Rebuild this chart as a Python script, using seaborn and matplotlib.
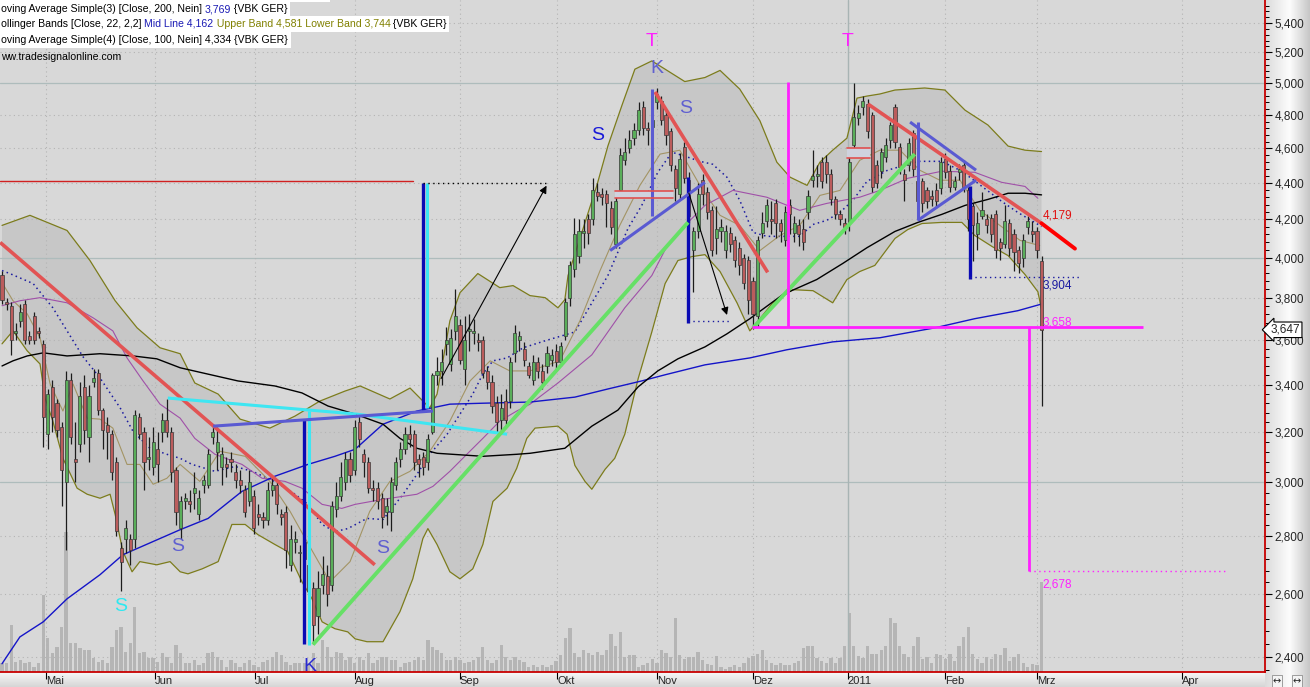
import numpy as np
import pandas as pd
import matplotlib
matplotlib.use('Agg')
import matplotlib.pyplot as plt
import seaborn as sns
from matplotlib.patches import Rectangle
from matplotlib.text import Annotation
from matplotlib.transforms import IdentityTransform
from matplotlib.ticker import FixedLocator, FuncFormatter, NullFormatter

# --- VBK GER, pregões diários (preço em EUR) ---
aberturas = [
    3.91, 3.78, 3.76, 3.63, 3.69, 3.77, 3.62, 3.71, 3.64, 3.58,
    3.19, 3.39, 3.32, 3.22, 3.00, 3.42, 3.09, 3.15, 3.39, 3.18,
    3.41, 3.45, 3.29, 3.23, 3.19, 3.08, 2.76, 2.79, 2.79, 2.79,
    3.26, 3.20, 3.09, 3.06, 3.13, 3.20, 3.25, 3.20, 3.05, 2.83,
    2.93, 2.93, 2.96, 2.88, 2.99, 2.99, 3.18, 3.12, 3.06, 3.07,
    3.09, 3.04, 3.01, 2.97, 2.93, 2.95, 2.88, 2.87, 2.86, 2.97,
    2.99, 2.88, 2.89, 2.70, 2.78, 2.74, 2.72, 2.70, 2.62, 2.53,
    2.63, 2.66, 2.63, 2.90, 2.95, 3.00, 3.09, 3.05, 3.24, 3.11,
    3.08, 2.98, 2.98, 2.94, 2.89, 2.89, 2.99, 3.09, 3.13, 3.19,
    3.19, 3.09, 3.10, 3.08, 3.20, 3.44, 3.46, 3.58, 3.49, 3.64,
    3.67, 3.47, 3.64, 3.63, 3.60, 3.60, 3.46, 3.41, 3.32, 3.25,
    3.33, 3.33, 3.54, 3.60, 3.56, 3.48, 3.42, 3.50, 3.46, 3.48,
    3.51, 3.55, 3.50, 3.62, 3.80, 3.94, 4.01, 4.13, 4.20, 4.20,
    4.35, 4.34, 4.34, 4.26, 4.07, 4.36, 4.53, 4.60, 4.66, 4.71,
    4.85, 4.72, 4.73, 4.88, 4.89, 4.80, 4.70, 4.48, 4.34, 4.61,
    4.42, 4.04, 4.14, 4.42, 4.35, 4.25, 4.10, 4.14, 4.04, 4.13,
    4.09, 4.05, 4.00, 3.99, 3.88, 3.71, 4.13, 4.19, 4.20, 4.29,
    4.18, 4.09, 4.28, 4.13, 4.17, 4.15, 4.24, 4.42, 4.44, 4.52,
    4.52, 4.45, 4.31, 4.23, 4.18, 4.18, 4.62, 4.78, 4.85, 4.87,
    4.80, 4.50, 4.47, 4.55, 4.65, 4.85, 4.61, 4.45, 4.50, 4.69,
    4.41, 4.41, 4.36, 4.33, 4.36, 4.37, 4.54, 4.47, 4.38, 4.46,
    4.50, 4.36, 4.27, 4.12, 4.22, 4.20, 4.21, 4.23, 4.08, 4.07,
    4.18, 4.12, 4.04, 4.00, 4.16, 4.14, 4.14, 3.98,
]
maximas = [
    3.93, 3.80, 3.78, 3.68, 3.77, 3.79, 3.64, 3.73, 3.66, 3.60,
    3.38, 3.42, 3.34, 3.24, 3.46, 3.45, 3.24, 3.41, 3.44, 3.40,
    3.47, 3.47, 3.30, 3.26, 3.21, 3.10, 2.78, 2.86, 2.81, 3.29,
    3.28, 3.22, 3.18, 3.22, 3.20, 3.28, 3.34, 3.22, 3.06, 2.95,
    2.96, 2.97, 3.04, 2.97, 3.03, 3.13, 3.23, 3.22, 3.14, 3.10,
    3.12, 3.07, 3.05, 2.99, 3.05, 2.97, 2.92, 2.89, 3.00, 3.03,
    3.01, 2.90, 2.91, 2.84, 2.82, 2.77, 2.81, 2.74, 2.64, 2.68,
    2.73, 2.70, 2.93, 3.00, 3.08, 3.12, 3.12, 3.25, 3.27, 3.13,
    3.10, 3.01, 3.00, 2.96, 2.94, 3.02, 3.10, 3.16, 3.22, 3.23,
    3.21, 3.11, 3.12, 3.19, 3.45, 3.52, 3.56, 3.66, 3.65, 3.84,
    3.70, 3.71, 3.72, 3.70, 3.63, 3.62, 3.48, 3.44, 3.35, 3.36,
    3.38, 3.52, 3.67, 3.64, 3.59, 3.50, 3.53, 3.52, 3.49, 3.57,
    3.56, 3.58, 3.59, 3.80, 3.98, 4.21, 4.20, 4.20, 4.23, 4.43,
    4.40, 4.37, 4.36, 4.30, 4.32, 4.60, 4.66, 4.71, 4.75, 4.88,
    4.89, 4.76, 4.82, 4.97, 4.92, 4.84, 4.72, 4.50, 4.57, 4.64,
    4.46, 4.16, 4.40, 4.45, 4.38, 4.27, 4.27, 4.20, 4.17, 4.16,
    4.11, 4.08, 4.02, 4.01, 3.90, 4.11, 4.24, 4.31, 4.30, 4.31,
    4.20, 4.27, 4.31, 4.22, 4.20, 4.20, 4.36, 4.59, 4.50, 4.55,
    4.56, 4.48, 4.33, 4.25, 4.21, 4.55, 5.00, 4.86, 4.92, 4.90,
    4.82, 4.53, 4.60, 4.66, 4.76, 4.87, 4.63, 4.48, 4.66, 4.71,
    4.43, 4.43, 4.38, 4.36, 4.40, 4.55, 4.57, 4.50, 4.44, 4.51,
    4.53, 4.38, 4.29, 4.24, 4.35, 4.23, 4.23, 4.25, 4.10, 4.28,
    4.20, 4.15, 4.06, 4.12, 4.22, 4.19, 4.16, 4.01,
]
minimas = [
    3.77, 3.74, 3.53, 3.60, 3.66, 3.58, 3.58, 3.58, 3.61, 3.14,
    3.13, 3.20, 3.18, 2.91, 2.75, 3.15, 3.00, 3.12, 3.15, 3.08,
    3.39, 3.27, 3.13, 3.09, 3.01, 2.80, 2.61, 2.74, 2.70, 2.76,
    3.17, 2.97, 3.05, 3.03, 3.00, 3.16, 3.18, 3.00, 2.84, 2.79,
    2.90, 2.89, 2.90, 2.86, 2.96, 2.98, 3.15, 3.05, 2.99, 3.02,
    3.04, 2.98, 2.96, 2.87, 2.91, 2.81, 2.84, 2.83, 2.84, 2.95,
    2.88, 2.84, 2.69, 2.68, 2.74, 2.64, 2.70, 2.55, 2.44, 2.47,
    2.60, 2.56, 2.61, 2.87, 2.93, 2.97, 3.00, 3.03, 3.14, 3.02,
    2.96, 2.93, 2.90, 2.83, 2.84, 2.82, 2.97, 3.06, 3.11, 3.14,
    3.05, 3.02, 3.03, 3.05, 3.19, 3.40, 3.40, 3.53, 3.46, 3.60,
    3.49, 3.40, 3.55, 3.58, 3.55, 3.43, 3.38, 3.28, 3.20, 3.19,
    3.22, 3.30, 3.50, 3.55, 3.48, 3.43, 3.40, 3.43, 3.38, 3.45,
    3.48, 3.47, 3.48, 3.60, 3.76, 3.90, 3.97, 4.05, 4.07, 4.17,
    4.30, 4.28, 4.16, 4.12, 4.05, 4.33, 4.50, 4.57, 4.62, 4.68,
    4.68, 4.62, 4.70, 4.84, 4.74, 4.62, 4.47, 4.30, 4.31, 4.40,
    4.18, 3.83, 4.10, 4.28, 4.20, 4.01, 4.02, 4.08, 4.00, 4.03,
    3.95, 3.91, 3.84, 3.72, 3.65, 3.66, 4.10, 4.16, 4.12, 4.10,
    4.08, 4.06, 4.12, 4.08, 4.06, 4.04, 4.20, 4.38, 4.38, 4.37,
    4.40, 4.28, 4.20, 4.17, 4.12, 4.14, 4.58, 4.74, 4.80, 4.66,
    4.35, 4.37, 4.43, 4.52, 4.60, 4.60, 4.45, 4.30, 4.47, 4.44,
    4.25, 4.24, 4.26, 4.27, 4.26, 4.34, 4.43, 4.35, 4.36, 4.42,
    4.35, 4.14, 3.98, 4.04, 4.20, 4.13, 4.08, 4.00, 3.99, 4.05,
    4.01, 3.93, 3.92, 3.95, 4.12, 4.08, 4.00, 3.31,
]
fechamentos = [
    3.79, 3.77, 3.60, 3.64, 3.73, 3.60, 3.60, 3.60, 3.63, 3.26,
    3.36, 3.26, 3.21, 3.05, 3.42, 3.18, 3.08, 3.35, 3.21, 3.35,
    3.43, 3.29, 3.21, 3.20, 3.04, 2.82, 2.71, 2.83, 2.75, 3.27,
    3.19, 3.08, 3.10, 3.16, 3.07, 3.25, 3.20, 3.04, 2.89, 2.93,
    2.94, 2.92, 2.98, 2.94, 3.01, 3.11, 3.20, 3.16, 3.11, 3.06,
    3.08, 3.01, 2.99, 2.89, 3.00, 2.83, 2.87, 2.86, 2.97, 2.99,
    2.92, 2.87, 2.75, 2.79, 2.79, 2.74, 2.78, 2.61, 2.50, 2.62,
    2.67, 2.60, 2.91, 2.95, 3.02, 3.09, 3.03, 3.22, 3.17, 3.08,
    2.98, 2.97, 2.93, 2.87, 2.91, 3.00, 3.08, 3.13, 3.19, 3.17,
    3.08, 3.07, 3.06, 3.17, 3.44, 3.46, 3.50, 3.60, 3.61, 3.71,
    3.51, 3.60, 3.65, 3.64, 3.59, 3.45, 3.41, 3.31, 3.24, 3.30,
    3.25, 3.50, 3.63, 3.62, 3.51, 3.44, 3.50, 3.46, 3.41, 3.54,
    3.53, 3.50, 3.57, 3.78, 3.96, 4.12, 4.14, 4.14, 4.13, 4.36,
    4.33, 4.32, 4.29, 4.16, 4.30, 4.56, 4.58, 4.65, 4.71, 4.83,
    4.72, 4.71, 4.77, 4.93, 4.77, 4.68, 4.50, 4.37, 4.54, 4.43,
    4.22, 4.14, 4.34, 4.34, 4.24, 4.04, 4.15, 4.16, 4.14, 4.07,
    3.99, 3.96, 3.87, 3.79, 3.72, 4.09, 4.18, 4.28, 4.19, 4.18,
    4.14, 4.24, 4.23, 4.18, 4.12, 4.08, 4.33, 4.44, 4.45, 4.41,
    4.45, 4.31, 4.23, 4.20, 4.16, 4.52, 4.79, 4.81, 4.89, 4.70,
    4.38, 4.40, 4.58, 4.62, 4.74, 4.64, 4.49, 4.42, 4.63, 4.48,
    4.30, 4.29, 4.30, 4.31, 4.30, 4.52, 4.46, 4.38, 4.41, 4.48,
    4.38, 4.20, 4.17, 4.18, 4.25, 4.17, 4.12, 4.04, 4.05, 4.19,
    4.05, 4.03, 3.97, 4.09, 4.19, 4.12, 4.04, 3.647,
]
# volume relativo (mesma escala do painel de baixo)
volumes = [
    9, 9, 47, 10, 12, 9, 10, 5, 9, 77, 34, 19, 25, 45, 140, 29, 29, 24, 22, 22,
    14, 10, 12, 9, 25, 42, 45, 20, 29, 65, 19, 20, 14, 14, 10, 19, 15, 9,
    27, 19, 9, 9, 12, 7, 9, 19, 20, 15, 12, 5, 12, 9, 5, 9, 12, 7, 5, 10,
    12, 15, 20, 17, 10, 7, 9, 9, 9, 9, 19, 9, 32, 25, 15, 20, 19,
    12, 15,
    9, 15, 12, 19, 9, 12, 15, 15, 12, 12, 5, 9, 10, 12, 15, 12, 32, 25, 22, 19,
    12, 12, 15, 12, 9, 10, 12, 15, 25, 12, 9, 12, 27, 15, 12, 15, 12,
    10,
    5, 7, 5, 7, 5, 7, 11, 17, 34, 44, 19, 15, 22, 19, 17, 20, 17, 22, 38, 26,
    40, 15, 17, 17, 5, 7, 9, 13, 9, 22, 19, 15, 54, 17, 13, 15,
    15, 20, 12, 8,
    7, 16, 5, 3, 5, 7, 5, 9, 14, 16, 18, 22, 12, 9, 7, 9, 7, 7, 9, 11,
    24, 26, 26, 14, 11, 9, 14, 9, 14, 26, 59, 26, 16, 14, 26, 18,
    18, 22, 26, 54, 49, 26, 18, 15, 26, 35, 13, 15, 9, 18, 17, 13, 18, 11, 26, 35,
    45, 18, 13, 9, 15, 13, 18, 17, 24, 11, 15, 18, 9, 5, 8, 7, 90,
]

meses_pos = [9.6, 33.4, 55.2, 77.1, 100.0, 121.2, 143.0, 164.0, 184.7, 205.9, 226.0, 257.6]
meses_rotulos = ['Mai', 'Jun', 'Jul', 'Aug', 'Sep', 'Okt', 'Nov', 'Dez', '2011', 'Feb', 'Mrz', 'Apr']

# --- indicadores (pregão, preço) ---
bb_sup_x = [0, 6.1, 14.2, 19.2, 24.7, 29.5, 34.5, 38.9, 42.1, 47.2, 52.0, 58.5, 64.0, 69.4, 74.9,
            78.2, 84.7, 89.1, 93.4, 95.0, 97.8, 100.0, 103.9, 108.7, 111.6, 115.3, 118.6, 121.4,
            122.9, 123.6, 126.9, 129.9, 132.3, 135.4, 138.2, 141.9, 144.8, 149.1, 153.5, 156.8,
            161.1, 165.5, 169.2, 172.1, 175.8, 178.6, 181.4, 184.5, 186.7, 188.9, 191.7, 195.0,
            201.5, 205.9, 210.3, 215.3, 219.7, 223.4, 227.0]
bb_sup_y = [4.168, 4.222, 4.141, 3.985, 3.785, 3.656, 3.564, 3.537, 3.407, 3.359, 3.253, 3.216,
            3.266, 3.329, 3.372, 3.394, 3.338, 3.385, 3.300, 3.359, 3.689, 3.824, 3.919, 3.849,
            3.859, 3.810, 3.800, 3.751, 3.790, 3.909, 4.152, 4.387, 4.613, 4.862, 5.090, 5.144,
            5.090, 5.010, 5.036, 5.082, 4.962, 4.765, 4.519, 4.433, 4.387, 4.519, 4.589, 4.660,
            4.905, 4.918, 4.931, 4.956, 4.969, 4.956, 4.830, 4.739, 4.613, 4.589, 4.581]
bb_inf_x = [0, 2.4, 5.5, 8.3, 9.4, 11.1, 13.3, 16.4, 18.6, 21.4, 23.6, 24.7, 26.4, 28.4, 30.1,
            33.8, 36.7, 38.9, 40.6, 43.7, 47.2, 50.2, 53.1, 55.9, 59.6, 62.4, 65.5, 67.7, 69.9,
            72.7, 75.5, 77.1, 79.7, 83.2, 86.9, 89.7, 91.9, 93.0, 95.0, 97.8, 100.0, 102.8, 105.0,
            107.2, 110.3, 112.4, 114.6, 116.4, 121.4, 123.4, 125.1, 127.3, 128.8, 131.7, 133.8,
            136.0, 138.9, 141.9, 144.8, 147.6, 150.7, 153.5, 156.8, 160.5, 163.3, 164.8, 168.3,
            172.7, 177.1, 181.4, 184.5, 187.3, 190.6, 195.0, 197.8, 200.9, 205.2, 209.6, 212.4,
            216.2, 219.7, 223.4, 226.2, 227.0]
bb_inf_y = [3.582, 3.642, 3.550, 3.491, 3.342, 3.245, 3.094, 2.978, 2.955, 2.940, 2.955, 2.880,
            2.746, 2.676, 2.711, 2.700, 2.711, 2.676, 2.669, 2.686, 2.711, 2.843, 2.843, 2.806,
            2.771, 2.746, 2.642, 2.585, 2.510, 2.488, 2.478, 2.456, 2.447, 2.447, 2.543, 2.652,
            2.792, 2.828, 2.771, 2.676, 2.652, 2.686, 2.771, 2.928, 2.978, 3.055, 3.174, 3.216,
            3.224, 3.191, 3.066, 3.004, 2.974, 3.051, 3.094, 3.191, 3.425, 3.637, 3.869, 3.985,
            4.005, 4.015, 3.929, 3.775, 3.642, 3.680, 3.775, 3.839, 3.834, 3.775, 3.889, 3.929,
            3.960, 4.099, 4.146, 4.178, 4.184, 4.184, 4.115, 4.057, 4.010, 3.914, 3.829, 3.744]
bb_med_x = [0, 1.7, 6.8, 11.1, 14.2, 17.7, 21.4, 25.8, 28.6, 32.3, 36.0, 38.9, 41.5, 46.5, 50.9,
            54.6, 59.6, 64.0, 66.8, 69.9, 72.7, 75.5, 79.7, 83.2, 87.6, 90.6, 93.4, 97.2, 100.0,
            102.8, 105.0, 107.2, 110.3, 113.8, 118.6, 125.1, 132.3, 136.7, 139.7, 143.2, 146.3,
            149.1, 152.4, 155.2, 158.3, 161.1, 164.0, 167.0, 171.4, 174.2, 177.1, 180.1, 183.0,
            185.8, 188.9, 193.4, 200.0, 205.2, 209.6, 214.0, 218.3, 221.8, 227.0]
bb_med_y = [3.934, 3.919, 3.869, 3.751, 3.642, 3.523, 3.429, 3.300, 3.203, 3.134, 3.110, 3.094,
            3.070, 3.043, 3.062, 3.043, 3.004, 2.955, 2.917, 2.843, 2.817, 2.828, 2.865, 2.861,
            2.955, 3.031, 3.110, 3.191, 3.274, 3.359, 3.447, 3.505, 3.518, 3.564, 3.596, 3.637,
            3.909, 4.152, 4.276, 4.461, 4.577, 4.554, 4.524, 4.507, 4.433, 4.304, 4.131, 4.110,
            4.110, 4.110, 4.173, 4.195, 4.238, 4.304, 4.410, 4.473, 4.524, 4.524, 4.467, 4.381,
            4.298, 4.238, 4.162]
sma200_x = [0, 3.9, 9.0, 14.2, 21.4, 26.4, 38.9, 45.0, 52.4, 59.6, 66.8, 72.7, 77.1, 83.2, 90.6,
            97.8, 105.0, 115.3, 125.1, 132.3, 139.7, 144.8, 153.5, 163.3, 171.4, 181.4, 191.7,
            203.7, 212.4, 221.8, 227.0]
sma200_y = [2.379, 2.462, 2.510, 2.585, 2.666, 2.735, 2.824, 2.865, 2.966, 3.024, 3.070, 3.102,
            3.130, 3.232, 3.287, 3.316, 3.320, 3.325, 3.346, 3.381, 3.416, 3.443, 3.487, 3.518,
            3.555, 3.591, 3.610, 3.656, 3.699, 3.737, 3.769]
sma100_x = [0, 2.4, 5.5, 9.0, 14.2, 21.4, 28.6, 33.8, 38.9, 51.5, 59.6, 65.5, 71.2, 77.1, 83.2,
            86.9, 90.6, 95.0, 105.0, 112.4, 115.3, 122.9, 128.8, 134.5, 138.9, 143.2, 147.6,
            153.5, 158.3, 163.3, 170.5, 177.9, 183.6, 188.9, 195.0, 200.0, 205.2, 210.3, 215.3,
            219.7, 223.4, 227.0]
sma100_y = [3.482, 3.505, 3.527, 3.541, 3.527, 3.537, 3.527, 3.514, 3.474, 3.416, 3.394, 3.364,
            3.308, 3.274, 3.232, 3.174, 3.134, 3.114, 3.102, 3.110, 3.114, 3.134, 3.224, 3.291,
            3.390, 3.460, 3.514, 3.568, 3.628, 3.699, 3.815, 3.889, 3.970, 4.051, 4.136, 4.184,
            4.227, 4.276, 4.309, 4.343, 4.343, 4.334]
roxa_x = [0, 3.9, 8.3, 14.2, 19.9, 24.2, 27.3, 30.8, 34.5, 38.9, 42.1, 46.5, 52.4, 56.8, 61.8,
          65.5, 69.9, 74.2, 77.1, 83.2, 90.6, 94.1, 97.8, 101.5, 105.0, 108.7, 112.4, 115.3,
          121.4, 128.8, 136.0, 141.9, 145.4, 148.5, 153.5, 159.6, 167.0, 174.2, 180.1, 187.3,
          191.7, 197.8, 205.2, 212.4, 218.3, 223.4, 226.2]
roxa_y = [3.761, 3.785, 3.800, 3.775, 3.703, 3.642, 3.518, 3.416, 3.316, 3.257, 3.174, 3.110,
          3.070, 3.016, 3.004, 2.978, 2.917, 2.902, 2.917, 2.936, 2.955, 2.985, 3.043, 3.110,
          3.174, 3.245, 3.287, 3.316, 3.407, 3.532, 3.751, 3.909, 4.068, 4.152, 4.276, 4.359,
          4.321, 4.249, 4.287, 4.321, 4.359, 4.427, 4.467, 4.461, 4.404, 4.381, 4.315]
ocre_x = [0, 2.4, 5.5, 8.3, 10.5, 13.3, 15.5, 18.6, 21.4, 24.2, 27.3, 30.1, 33.0, 36.0, 38.9,
          43.2, 47.6, 53.1, 58.5, 62.9, 67.2, 71.6, 76.0, 80.3, 84.7, 89.1, 93.4, 97.8, 102.2,
          106.6, 110.9, 115.3, 121.8, 126.2, 130.6, 134.9, 139.3, 143.7, 148.0, 152.4, 156.8,
          161.1, 165.5, 169.9, 174.2, 178.6, 183.0, 187.3, 191.7, 196.1, 200.4, 204.8, 209.2,
          213.5, 217.9, 222.3, 226.6]
ocre_y = [3.874, 3.785, 3.722, 3.610, 3.403, 3.287, 3.403, 3.257, 3.253, 3.216, 3.070, 3.070,
          2.993, 3.016, 3.070, 3.004, 3.122, 3.102, 3.004, 2.891, 2.764, 2.642, 2.711, 2.891,
          3.004, 3.043, 3.122, 3.245, 3.416, 3.505, 3.460, 3.460, 3.505, 3.689, 3.934, 4.168,
          4.387, 4.566, 4.589, 4.387, 4.222, 4.168, 4.036, 4.115, 4.168, 4.331, 4.359, 4.530,
          4.589, 4.589, 4.473, 4.416, 4.416, 4.249, 4.168, 4.089, 4.062]

# --- desenhos do analista: ((x0, x1), (p0, p1)) ---
linhas_vermelhas = [((-0.4, 81.4), (4.078, 2.700)), ((142.6, 167.2), (4.944, 3.925)),
                    ((189.1, 227.0), (4.868, 4.179))]
linha_vermelha_fim = ((227.0, 234.3), (4.179, 4.046))
linha_resistencia = ((-0.4, 89.7), (4.41, 4.41))
linhas_ciano = [((36.2, 77.5), (3.342, 3.274)), ((77.5, 110.3), (3.274, 3.191)),
                ((67.0, 67.0), (3.287, 2.438)), ((92.8, 92.8), (4.399, 3.300))]
linhas_azul_escuro = [((65.9, 65.9), (3.253, 2.441)), ((91.9, 91.9), (4.399, 3.287)),
                      ((149.8, 149.8), (4.433, 3.680)), ((211.4, 211.4), (4.381, 3.894))]
linhas_ardosia = [((46.1, 94.1), (3.224, 3.287)), ((132.8, 153.5), (4.036, 4.404)),
                  ((141.9, 141.9), (4.962, 4.216)), ((198.3, 212.7), (4.757, 4.473)),
                  ((200.0, 200.0), (4.757, 4.195)), ((200.0, 212.7), (4.195, 4.416))]
linhas_verdes = [((67.9, 149.8), (2.438, 4.184)), ((164.0, 199.3), (3.656, 4.566))]
caixas_vermelhas = [((133.8, 146.5), (4.315, 4.353)), ((184.5, 189.5), (4.542, 4.601))]
setas = [((95.6, 119.2), (3.416, 4.399)), ((149.8, 158.5), (4.359, 3.704))]
pontilhadas = [((91.9, 119.2), (4.399, 4.399), 'black'), ((149.8, 159.0), (3.689, 3.689), '#1a1aa0'),
               ((211.4, 235.4), (3.904, 3.904), '#1a1aa0'), ((224.2, 267.0), (2.678, 2.678), '#ff20ff')]
linhas_magenta = [((171.6, 171.6), (5.007, 3.658)), ((163.8, 249.1), (3.658, 3.658)),
                  ((224.2, 224.2), (3.658, 2.678))]
letras = [('T', 141.9, 5.272, '#ff20ff'), ('T', 184.7, 5.272, '#ff20ff'),
          ('K', 143.0, 5.093, '#6060d0'), ('S', 130.1, 4.678, '#1a1ad8'),
          ('S', 149.3, 4.843, '#6060d0'), ('S', 38.4, 2.764, '#6060d0'),
          ('S', 83.2, 2.757, '#6060d0'), ('S', 25.8, 2.559, '#30e8f0'),
          ('K', 67.2, 2.370, '#2a2ad0')]
rotulos_valor = [('4,179', 4.222, '#e01010'), ('3,904', 3.859, '#1a1aa0'),
                 ('3,658', 3.680, '#ff20ff'), ('2,678', 2.632, '#ff20ff')]
ultimo_preco = 3.647


def desenhar_linha(ax, xs, ys, cor, lw, ls='-', z=2):
    """
    Desenha uma linha de indicador com seaborn.
    :param ax: Eixo do gráfico.
    :param xs: Posições (pregões).
    :param ys: Preços.
    """
    sns.lineplot(x=xs, y=ys, ax=ax, color=cor, linewidth=lw, linestyle=ls,
                 sort=False, estimator=None, legend=False, zorder=z)


def desenhar_segmentos(ax, segmentos, cor, lw, z=5, alpha=1.0):
    for xs, ys in segmentos:
        ax.plot(xs, ys, color=cor, lw=lw, zorder=z, alpha=alpha, solid_capstyle='butt')


sns.set_theme(style='white')
plt.rcParams['font.family'] = ['Liberation Sans', 'DejaVu Sans']

fig = plt.figure(figsize=(13.1, 6.87), dpi=100)
fig.patch.set_facecolor('#e6e6e6')
L, B, W, H = 0, 15 / 687, 1265 / 1310, 672 / 687

# faixas de fundo com degradê (eixo de preço e eixo de datas)
fundo_dir = fig.add_axes([W, 0, 1 - W, 1])
grad = np.interp(np.linspace(0, 1, 60), [0, 0.55, 1], [0.86, 0.99, 0.78])
fundo_dir.imshow(np.repeat(np.tile(grad, (4, 1))[..., None], 3, axis=2), aspect='auto',
                 extent=(0, 1, 0, 1))
fundo_dir.axis('off')
fundo_inf = fig.add_axes([0, 0, W, B])
gradv = np.interp(np.linspace(0, 1, 20), [0, 1], [0.97, 0.84])
fundo_inf.imshow(np.repeat(np.repeat(gradv[:, None, None], 4, axis=1), 3, axis=2),
                 aspect='auto', extent=(0, 1, 0, 1))
fundo_inf.axis('off')

# painel de volume (atrás)
ax_vol = fig.add_axes([L, B, W, H])
ax_vol.set_facecolor('#d8d8d8')
df = pd.DataFrame({'abertura': aberturas, 'maxima': maximas, 'minima': minimas,
                   'fechamento': fechamentos, 'volume': volumes})
df['dia'] = np.arange(len(df))
ax_vol.bar(df['dia'], df['volume'], width=0.72, color='#b5b5b5', linewidth=0)
ax_vol.set_ylim(0, 672)
for s in ax_vol.spines.values():
    s.set_visible(False)
ax_vol.tick_params(left=False, bottom=False, labelleft=False, labelbottom=False)

# painel de preço
ax = fig.add_axes([L, B, W, H], sharex=ax_vol)
ax.set_facecolor('none')
ax.set_yscale('log')

# grade
majores = np.round(np.arange(2.4, 5.41, 0.2), 1)
for v in majores:
    if v in (3.0, 4.0, 5.0):
        ax.axhline(v, color='#aebcbc', lw=0.9, zorder=1.5)
    else:
        ax.axhline(v, color='#b4b4b4', lw=0.8, ls=(0, (1, 3)), zorder=1.5)
for p, r in zip(meses_pos, meses_rotulos):
    if r == '2011':
        ax.axvline(p, color='#a8b4b4', lw=1.0, zorder=1.5)
    else:
        ax.axvline(p, color='#b4b4b4', lw=0.8, ls=(0, (1, 3)), zorder=1.5)

# bandas de Bollinger
ax.fill(np.r_[bb_sup_x, bb_inf_x[::-1]], np.r_[bb_sup_y, bb_inf_y[::-1]],
        color='#c7c7c7', lw=0, zorder=1)
desenhar_linha(ax, bb_sup_x, bb_sup_y, '#7c7c1c', 0.9)
desenhar_linha(ax, bb_inf_x, bb_inf_y, '#7c7c1c', 0.9)
desenhar_linha(ax, bb_med_x, bb_med_y, '#1a1aa0', 1.1, ls=(0, (1, 2.2)))
desenhar_linha(ax, ocre_x, ocre_y, '#a39464', 0.8)
desenhar_linha(ax, roxa_x, roxa_y, '#a050a8', 0.8)
desenhar_linha(ax, sma200_x, sma200_y, '#1414c8', 1.0)
desenhar_linha(ax, sma100_x, sma100_y, '#000000', 1.0)

# candles
alta = df['fechamento'] >= df['abertura']
ax.vlines(df['dia'], df['minima'], df['maxima'], color='#1c1c1c', lw=0.9, zorder=3)
base = df[['abertura', 'fechamento']].min(axis=1)
altura = (df['fechamento'] - df['abertura']).abs().clip(lower=0.004)
ax.bar(df['dia'], altura, bottom=base, width=0.68,
       color=np.where(alta, '#5aae5a', '#bb5c5c'), edgecolor='#383838', linewidth=0.5, zorder=4)

# desenhos
ax.plot(*linha_resistencia, color='#d02020', lw=1.0, zorder=5)
desenhar_segmentos(ax, linhas_vermelhas, '#e25454', 2.6)
ax.plot(*linha_vermelha_fim, color='#ff0000', lw=2.8, zorder=5)
desenhar_segmentos(ax, linhas_ciano, '#3ee6f2', 2.2)
desenhar_segmentos(ax, linhas_azul_escuro, '#0a0ab4', 2.4)
desenhar_segmentos(ax, linhas_ardosia, '#5a5ad2', 2.2)
desenhar_segmentos(ax, linhas_verdes, '#66e066', 2.8)
desenhar_segmentos(ax, linhas_magenta, '#ff20ff', 2.0)
for xs, ys in caixas_vermelhas:
    ax.fill_between(xs, ys[0], ys[1], color='#cfd2de', zorder=4.5, lw=0)
    ax.plot(xs, [ys[0], ys[0]], color='#e05050', lw=1.2, zorder=5)
    ax.plot(xs, [ys[1], ys[1]], color='#e05050', lw=1.2, zorder=5)
for xs, ys, cor in pontilhadas:
    ax.plot(xs, ys, color=cor, lw=1.0, ls=(0, (1, 2.5)), zorder=5)
for xs, ys in setas:
    ax.annotate('', xy=(xs[1], ys[1]), xytext=(xs[0], ys[0]), zorder=6,
                arrowprops=dict(arrowstyle='-|>', color='black', lw=0.8, mutation_scale=11))
for txt, x, y, cor in letras:
    ax.text(x, y, txt, color=cor, fontsize=14, ha='center', va='center', zorder=7)
for txt, y, cor in rotulos_valor:
    ax.text(227.3, y, txt, color=cor, fontsize=8.5, ha='left', va='center', zorder=7)

# eixos
ax.set_xlim(-0.44, 275.8)
ax.set_ylim(2.354, 5.561)
ax.yaxis.tick_right()
ax.yaxis.set_major_locator(FixedLocator(majores))
ax.yaxis.set_major_formatter(FuncFormatter(lambda v, p: f'{v:.3f}'.replace('.', ',')))
menores = [round(v, 2) for v in np.arange(2.36, 5.56, 0.04) if abs(v / 0.2 - round(v / 0.2)) > 0.01]
ax.yaxis.set_minor_locator(FixedLocator(menores))
ax.yaxis.set_minor_formatter(NullFormatter())
ax.tick_params(axis='y', which='major', direction='out', length=5, width=0.8, color='black',
               labelsize=8.5, pad=2, right=True, left=False, labelright=True, labelleft=False)
ax.tick_params(axis='y', which='minor', direction='out', length=3, width=0.7, color='black',
               right=True, left=False)
ax.set_xticks(meses_pos)
ax.set_xticklabels(meses_rotulos)
ax.tick_params(axis='x', direction='out', length=5, width=0.8, color='black', labelsize=8,
               pad=-2, bottom=True)
for lab in ax.get_xticklabels():
    lab.set_ha('left')
for lado in ('top', 'left'):
    ax.spines[lado].set_visible(False)
for lado in ('right', 'bottom'):
    ax.spines[lado].set_color('#c80000')
    ax.spines[lado].set_linewidth(1.3)
ax.set_xlabel('')
ax.set_ylabel('')

ax.annotate(f'{ultimo_preco:.3f}'.replace('.', ','), xy=(1.0, ultimo_preco),
            xycoords=('axes fraction', 'data'), xytext=(4, 0), textcoords='offset points',
            ha='left', va='center', fontsize=8.5, annotation_clip=False, zorder=8,
            bbox=dict(boxstyle='larrow,pad=0.15', fc='white', ec='black', lw=0.8))

# legenda de indicadores (topo esquerdo): fundo branco por linha + texto em partes coloridas
linhas_legenda = [
    (9, 290, [('oving Average Simple(3) [Close, 200, Nein] ', 'black'), ('3,769', '#1a1ab4'),
              (' {VBK GER}', 'black')]),
    (24, 449, [('ollinger Bands [Close, 22, 2,2] ', 'black'), ('Mid Line 4,162', '#1a1ab4'),
               (' Upper Band 4,581 Lower Band 3,744', '#808000'), (' {VBK GER}', 'black')]),
    (40, 291, [('oving Average Simple(4) [Close, 100, Nein] 4,334 {VBK GER}', 'black')]),
]
fig.add_artist(Rectangle((0, 687 - 2), 330, 2, transform=IdentityTransform(),
                         fc='white', ec='none', zorder=1))
for y_px, largura, partes in linhas_legenda:
    fig.add_artist(Rectangle((0, 687 - y_px - 8), largura, 16, transform=IdentityTransform(),
                             fc='white', ec='none', zorder=1))
    ant = None
    for texto, cor in partes:
        if ant is None:
            ant = Annotation(texto, xy=(1, 687 - y_px), xycoords='figure pixels',
                             ha='left', va='center', color=cor, fontsize=7.6)
        else:
            ant = Annotation(texto, xy=(1, 0.5), xycoords=ant, ha='left', va='center',
                             color=cor, fontsize=7.6)
        ant.set_zorder(2)
        fig.add_artist(ant)
fig.text(1 / 1310, 1 - 57 / 687, 'ww.tradesignalonline.com', fontsize=7.6, ha='left',
         va='center', color='black')

# botões do canto inferior direito
for xb in (1277, 1297):
    fig.text(xb / 1310, 6 / 687, '↔', fontsize=7, ha='center', va='center',
             family='DejaVu Sans',
             bbox=dict(boxstyle='square,pad=0.1', fc='#f4f4f4', ec='#909090', lw=0.6))

fig.savefig('out.png', dpi=100)
